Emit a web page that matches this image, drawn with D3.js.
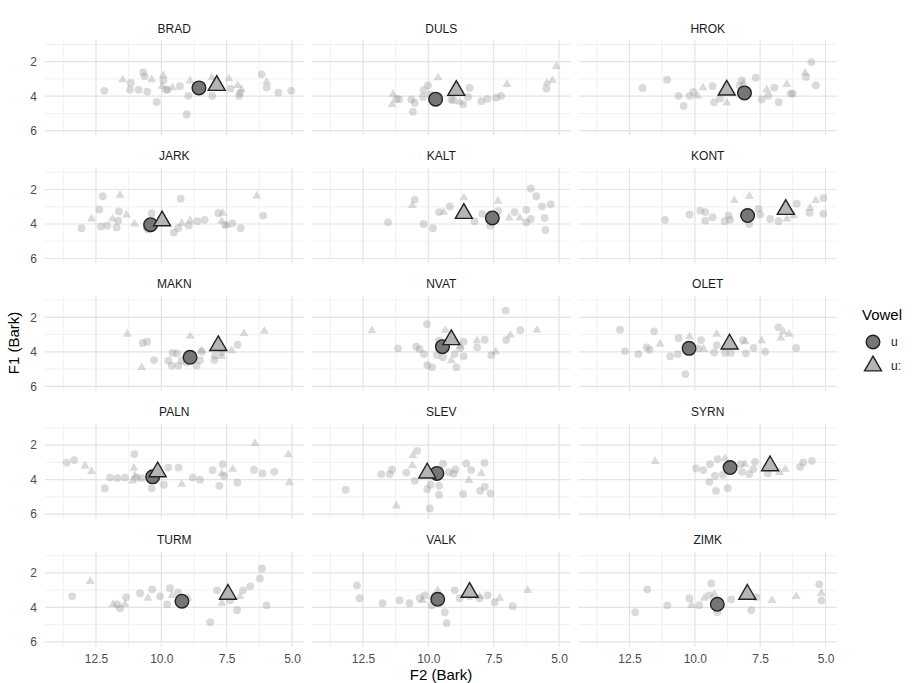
<!DOCTYPE html>
<html>
<head>
<meta charset="utf-8">
<script src="https://cdn.jsdelivr.net/npm/d3@7"></script>
<style>
  body { margin: 0; background: #ffffff; }
  text { font-family: "Liberation Sans", Arial, Helvetica, sans-serif; }
</style>
</head>
<body>
<svg id="chart" width="912" height="683"></svg>
<script>
// Speakers, in facet order (row by row)
const speakers = ["BRAD", "DULS", "HROK", "JARK", "KALT", "KONT", "MAKN", "NVAT", "OLET",
                  "PALN", "SLEV", "SYRN", "TURM", "VALK", "ZIMK"];

// Individual tokens: [F2 (Bark), F1 (Bark)] for short /u/ and long /u:/
const BRAD_u = [[12.18,3.69],[11.17,3.23],[11.20,3.62],[10.87,3.62],[10.69,2.62],[10.64,2.85],[10.54,3.73],
  [10.18,4.33],[9.83,3.62],[9.76,3.62],[9.29,3.42],[9.03,5.06],[8.97,3.98],[8.05,3.98],[7.35,3.56],[7.02,3.98],
  [6.99,3.81],[6.16,2.73],[5.97,3.50],[5.52,3.79],[5.03,3.69],[9.92,3.08]];
const BRAD_uu = [[11.48,3.04],[10.37,3.04],[9.92,2.79],[9.97,3.42],[9.57,3.50],[8.90,3.12],[8.06,2.92],[7.41,2.98],
  [7.08,3.37],[6.93,3.62],[5.97,3.17]];

const DULS_u = [[11.22,4.17],[11.12,4.17],[10.65,4.19],[10.59,4.90],[10.52,4.38],[10.20,4.04],[10.18,3.65],
  [10.01,3.37],[9.92,3.90],[9.12,4.19],[9.03,4.23],[8.67,4.46],[8.48,4.04],[8.42,3.52],[7.97,4.29],[7.74,4.15],
  [7.40,4.08],[7.21,3.98],[5.48,3.56]];
const DULS_uu = [[11.35,3.88],[11.38,4.48],[9.63,2.92],[8.80,4.33],[6.99,3.31],[5.46,3.23],[5.25,3.08],[5.10,2.27]];

const HROK_u = [[12.00,3.52],[11.06,3.04],[10.62,3.98],[10.43,4.56],[10.20,3.98],[10.05,3.75],[9.32,3.42],
  [9.26,4.35],[9.03,4.13],[8.20,3.08],[8.29,3.37],[7.67,2.92],[7.44,4.19],[7.19,3.98],[6.96,3.50],[6.79,4.35],
  [6.33,3.85],[6.25,3.85],[5.74,2.88],[5.54,2.02],[5.37,3.37]];
const HROK_uu = [[9.90,3.98],[9.69,3.50],[8.78,4.37],[8.14,3.27],[7.25,3.62],[6.48,3.31],[5.78,2.65]];

const JARK_u = [[13.05,4.24],[12.37,3.16],[12.24,2.39],[12.31,4.14],[12.07,4.10],[11.71,4.20],[11.62,3.27],
  [11.65,3.80],[10.56,4.20],[10.37,3.37],[10.50,4.33],[9.52,4.49],[9.35,4.24],[9.26,2.53],[8.95,4.08],[8.62,3.84],
  [8.34,3.76],[7.82,3.37],[7.56,4.06],[7.28,3.96],[6.96,4.24],[6.10,3.51]];
const JARK_uu = [[12.67,3.71],[11.87,3.71],[11.58,2.33],[11.33,3.47],[11.03,4.00],[9.22,3.96],[8.90,3.80],
  [7.65,3.37],[7.69,3.84],[7.50,4.06],[6.35,2.37]];

const KALT_u = [[11.54,3.90],[10.52,2.59],[10.18,4.00],[9.82,4.24],[9.59,3.31],[9.18,2.98],[8.23,3.84],[7.93,3.41],
  [7.63,4.10],[7.33,3.25],[6.70,3.31],[6.25,3.18],[6.08,1.94],[5.87,2.39],[5.65,2.98],[5.32,2.86],[5.55,3.65],
  [5.52,4.35],[6.08,3.71],[6.25,3.90]];
const KALT_uu = [[10.61,2.92],[9.41,3.31],[8.64,2.47],[7.33,2.67],[6.91,3.65],[6.50,3.65]];

const KONT_u = [[11.14,3.76],[10.20,3.45],[9.79,3.22],[9.60,3.31],[9.60,3.80],[9.32,3.61],[8.86,3.84],[8.71,3.51],
  [8.65,3.76],[7.92,4.00],[7.56,3.12],[7.50,3.45],[7.12,3.71],[6.80,3.84],[6.10,2.82],[5.61,3.35],[5.08,2.49],
  [5.08,3.41]];
const KONT_uu = [[8.49,2.63],[7.91,2.39],[6.48,3.71],[6.22,3.51],[5.59,3.08],[5.37,2.63]];

const MAKN_u = [[10.71,3.49],[10.54,3.41],[10.28,4.48],[9.73,4.51],[9.57,4.07],[9.41,4.09],[9.60,4.80],[9.35,4.80],
  [9.22,4.51],[9.03,4.61],[8.78,4.32],[8.65,4.80],[8.52,4.48],[8.46,3.99],[7.97,4.48],[7.95,4.22],[7.08,3.59],
  [7.69,4.03]];
const MAKN_uu = [[11.30,2.97],[10.75,4.90],[8.90,3.10],[8.46,3.93],[7.69,4.26],[7.31,3.93],[6.84,2.93],[6.06,2.81]];

const NVAT_u = [[11.16,3.80],[10.46,3.70],[10.33,3.84],[10.17,4.13],[10.05,2.39],[10.04,4.77],[9.86,4.90],
  [9.67,4.19],[9.59,3.35],[9.44,4.32],[8.99,4.13],[8.93,4.90],[8.78,3.80],[8.65,4.26],[8.65,3.41],[8.13,3.74],
  [7.84,3.30],[7.59,4.19],[7.02,3.32],[7.04,1.61],[6.48,2.74]];
const NVAT_uu = [[12.16,2.77],[9.35,2.74],[9.12,4.51],[8.78,3.68],[8.14,3.35],[7.42,3.99],[6.86,3.03],[5.84,2.74]];

const OLET_u = [[12.86,2.72],[12.67,3.97],[12.16,4.13],[11.84,3.74],[11.73,3.88],[11.56,2.81],[10.94,4.26],
  [10.65,4.13],[10.62,3.20],[10.36,5.29],[9.86,3.80],[9.76,3.32],[9.26,4.03],[9.16,3.61],[8.84,4.07],[8.62,4.07],
  [8.16,3.32],[8.05,4.09],[7.75,3.78],[7.31,3.99],[6.80,2.58],[6.12,3.78]];
const OLET_uu = [[11.33,3.55],[10.20,3.12],[9.66,3.84],[9.16,2.97],[8.07,3.41],[7.44,3.35],[6.71,3.20],[6.61,2.83],
  [6.39,2.97]];

const PALN_u = [[13.62,3.01],[13.33,2.87],[12.16,4.51],[11.96,3.88],[11.68,3.91],[11.39,3.88],[11.03,2.52],
  [10.94,3.88],[10.75,3.91],[10.37,4.50],[9.90,4.30],[9.73,3.30],[9.34,3.30],[8.80,3.88],[8.52,4.01],[8.04,3.45],
  [7.78,4.36],[7.65,3.10],[7.60,3.78],[7.09,4.17],[6.45,3.43],[6.13,3.64],[5.68,3.55]];
const PALN_uu = [[12.92,3.20],[12.67,3.53],[11.10,4.07],[11.05,3.33],[11.01,3.78],[9.22,4.26],[7.69,3.64],
  [7.27,3.39],[6.42,1.90],[5.14,2.56],[5.10,4.17]];

const SLEV_u = [[13.16,4.59],[11.80,3.68],[11.48,3.68],[11.39,3.43],[10.84,3.59],[10.52,4.07],[10.43,2.33],
  [10.04,4.55],[9.94,5.67],[9.91,4.30],[9.59,4.36],[9.59,4.88],[9.44,3.08],[9.21,3.57],[9.03,3.66],[8.96,3.41],
  [8.67,4.84],[8.55,3.06],[8.36,3.45],[8.02,4.65],[7.85,3.03],[7.84,4.42],[7.62,4.80]];
const SLEV_uu = [[11.22,5.52],[10.59,2.61],[10.61,3.19],[8.45,4.04],[7.97,3.64]];

const SYRN_u = [[9.95,3.35],[9.67,3.45],[9.42,3.10],[9.23,3.78],[9.44,4.13],[9.13,2.81],[8.93,3.72],[9.19,4.65],
  [8.74,4.50],[8.24,3.10],[8.20,3.55],[7.92,3.68],[7.70,2.97],[7.76,3.39],[7.21,3.64],[5.97,3.26],[5.52,2.91],
  [5.85,3.00]];
const SYRN_uu = [[11.52,2.95],[8.84,2.77],[8.08,3.10],[6.76,3.59],[6.54,3.39]];

const TURM_u = [[13.41,3.36],[11.69,3.82],[11.35,3.41],[10.81,3.18],[10.35,2.95],[10.05,3.36],[9.78,3.82],
  [9.67,2.89],[9.36,3.13],[8.13,4.86],[7.87,3.01],[7.37,3.59],[7.10,4.16],[6.87,3.01],[6.60,2.78],[6.23,2.32],
  [6.15,1.74],[5.97,3.88],[11.58,4.05]];
const TURM_uu = [[12.72,2.49],[11.85,3.82],[11.39,3.82],[10.51,3.47],[9.59,3.30],[8.98,3.47],[7.68,3.76],[6.99,3.36]];

const VALK_u = [[12.73,2.72],[12.63,3.47],[11.75,3.76],[11.10,3.59],[10.72,3.76],[10.33,3.47],[10.14,3.30],
  [9.87,3.88],[9.57,3.59],[9.37,4.28],[9.30,4.91],[8.99,3.01],[8.80,3.47],[8.42,3.36],[8.04,3.47],[7.73,3.30],
  [7.46,3.70],[6.77,3.93]];
const VALK_uu = [[10.22,3.59],[9.83,3.36],[9.64,3.01],[8.04,3.36],[7.27,3.47],[6.20,3.01]];

const ZIMK_u = [[12.28,4.28],[11.82,2.95],[11.05,3.88],[10.21,3.47],[9.83,3.88],[9.45,3.30],[9.37,2.61],[9.14,4.28],
  [8.61,3.53],[7.84,4.16],[7.65,3.41],[5.24,2.66],[5.16,3.59]];
const ZIMK_uu = [[10.13,3.88],[9.64,3.47],[9.25,3.24],[7.04,3.59],[6.12,3.36],[5.16,3.18]];

// Speaker means, in speaker order: [F2, F1]
const meanU = [[8.56,3.52],[9.72,4.17],[8.10,3.81],[10.41,4.04],[7.55,3.65],[7.98,3.51],[8.90,4.32],[9.46,3.70],
  [10.22,3.80],[10.33,3.84],[9.67,3.64],[8.65,3.30],[9.21,3.64],[9.64,3.53],[9.14,3.82]];
const meanUU = [[7.88,3.38],[8.93,3.67],[8.78,3.65],[9.97,3.82],[8.64,3.39],[6.52,3.16],[7.82,3.64],[9.12,3.30],
  [8.67,3.55],[10.14,3.55],[10.04,3.62],[7.12,3.20],[7.45,3.24],[8.42,3.13],[7.99,3.24]];

// Axis breaks
const xTicks = [12.5, 10, 7.5, 5];
const xMinor = [13.75, 11.25, 8.75, 6.25];
const yTicks = [2, 4, 6];
const yMinor = [1, 3, 5];
const vowelLabels = ["u", "u:"];

// Lookup built from the arrays above
const tokenTable = {
  BRAD: [BRAD_u, BRAD_uu], DULS: [DULS_u, DULS_uu], HROK: [HROK_u, HROK_uu],
  JARK: [JARK_u, JARK_uu], KALT: [KALT_u, KALT_uu], KONT: [KONT_u, KONT_uu],
  MAKN: [MAKN_u, MAKN_uu], NVAT: [NVAT_u, NVAT_uu], OLET: [OLET_u, OLET_uu],
  PALN: [PALN_u, PALN_uu], SLEV: [SLEV_u, SLEV_uu], SYRN: [SYRN_u, SYRN_uu],
  TURM: [TURM_u, TURM_uu], VALK: [VALK_u, VALK_uu], ZIMK: [ZIMK_u, ZIMK_uu]
};

// ---- layout ----
const svg = d3.select("#chart");
const colLeft = [45, 312, 578.5];
const rowTop = [40.5, 168.3, 296.1, 423.9, 551.7];
const panelW = 258.5, panelH = 94.5;

// F2 runs right-to-left, F1 top-to-bottom (vowel-space orientation)
const x = d3.scaleLinear().domain([14.45, 4.56]).range([0, panelW]);
const y = d3.scaleLinear().domain([0.77, 6.25]).range([0, panelH]);

const lightTri = d3.symbol(d3.symbolTriangle, 35);
const bigTri = d3.symbol(d3.symbolTriangle, 125);

speakers.forEach((spk, i) => {
  const col = i % 3, row = Math.floor(i / 3);
  const g = svg.append("g").attr("transform", `translate(${colLeft[col]},${rowTop[row]})`);

  // strip title
  g.append("text")
    .attr("x", panelW / 2).attr("y", -8)
    .attr("text-anchor", "middle")
    .attr("font-size", 12).attr("fill", "#1a1a1a")
    .text(spk);

  // grid
  const grid = g.append("g");
  grid.selectAll(".vmin").data(xMinor).join("line")
    .attr("x1", d => x(d)).attr("x2", d => x(d)).attr("y1", 0).attr("y2", panelH)
    .attr("stroke", "#ededed").attr("stroke-width", 0.8);
  grid.selectAll(".hmin").data(yMinor).join("line")
    .attr("y1", d => y(d)).attr("y2", d => y(d)).attr("x1", 0).attr("x2", panelW)
    .attr("stroke", "#ededed").attr("stroke-width", 0.8);
  grid.selectAll(".vmaj").data(xTicks).join("line")
    .attr("x1", d => x(d)).attr("x2", d => x(d)).attr("y1", 0).attr("y2", panelH)
    .attr("stroke", "#e3e3e3").attr("stroke-width", 1.2);
  grid.selectAll(".hmaj").data(yTicks).join("line")
    .attr("y1", d => y(d)).attr("y2", d => y(d)).attr("x1", 0).attr("x2", panelW)
    .attr("stroke", "#e3e3e3").attr("stroke-width", 1.2);

  // axes: y labels on the first column, x labels on the bottom row
  if (col === 0) {
    const ay = g.append("g").call(d3.axisLeft(y).tickValues(yTicks).tickSize(0).tickPadding(8).tickFormat(d3.format("d")));
    ay.select(".domain").remove();
    ay.selectAll("text").attr("font-size", 12).attr("fill", "#4d4d4d").attr("font-family", null);
  }
  if (row === 4) {
    const ax = g.append("g").attr("transform", `translate(0,${panelH})`)
      .call(d3.axisBottom(x).tickValues(xTicks).tickSize(0).tickPadding(8).tickFormat(d3.format(".1f")));
    ax.select(".domain").remove();
    ax.selectAll("text").attr("font-size", 12).attr("fill", "#4d4d4d").attr("font-family", null);
  }

  // individual tokens
  const [uTok, uuTok] = tokenTable[spk];
  const pts = g.append("g");
  pts.selectAll(".tu").data(uTok).join("circle")
    .attr("cx", d => x(d[0])).attr("cy", d => y(d[1])).attr("r", 3.9)
    .attr("fill", "#999999").attr("fill-opacity", 0.36);
  pts.selectAll(".tuu").data(uuTok).join("path")
    .attr("d", lightTri)
    .attr("transform", d => `translate(${x(d[0])},${y(d[1])})`)
    .attr("fill", "#999999").attr("fill-opacity", 0.36);

  // speaker means
  g.append("circle")
    .attr("cx", x(meanU[i][0])).attr("cy", y(meanU[i][1])).attr("r", 6.8)
    .attr("fill", "#767676").attr("stroke", "#222222").attr("stroke-width", 1.4);
  g.append("path")
    .attr("d", bigTri)
    .attr("transform", `translate(${x(meanUU[i][0])},${y(meanUU[i][1])})`)
    .attr("fill", "#b5b5b5").attr("stroke", "#222222").attr("stroke-width", 1.4);
});

// axis titles
svg.append("text")
  .attr("x", 441).attr("y", 680)
  .attr("text-anchor", "middle").attr("font-size", 15).attr("fill", "#000")
  .text("F2 (Bark)");
svg.append("text")
  .attr("transform", "translate(19,343) rotate(-90)")
  .attr("text-anchor", "middle").attr("font-size", 15).attr("fill", "#000")
  .text("F1 (Bark)");

// legend
const leg = svg.append("g");
leg.append("text").attr("x", 862).attr("y", 320).attr("font-size", 15).attr("fill", "#000").text("Vowel");
leg.append("circle").attr("cx", 873).attr("cy", 342).attr("r", 6.8)
  .attr("fill", "#767676").attr("stroke", "#222222").attr("stroke-width", 1.4);
leg.append("path").attr("d", bigTri).attr("transform", "translate(873,366)")
  .attr("fill", "#b5b5b5").attr("stroke", "#222222").attr("stroke-width", 1.4);
leg.selectAll(".lab").data(vowelLabels).join("text")
  .attr("x", 891).attr("y", (d, k) => 346 + k * 24)
  .attr("font-size", 12).attr("fill", "#1a1a1a")
  .text(d => d);
</script>
</body>
</html>
